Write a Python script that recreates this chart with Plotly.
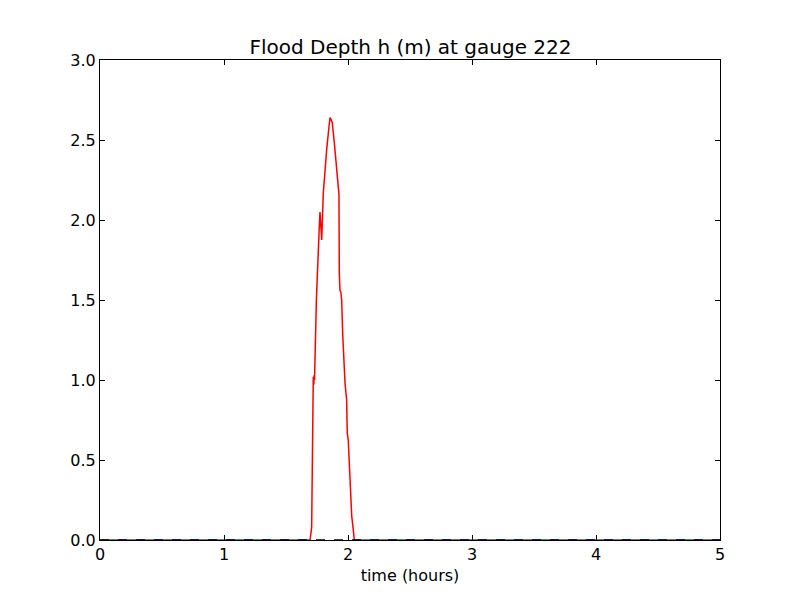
import plotly.graph_objects as go

# time (hours) and flood depth h (m) at gauge 222
time_hours = [0.0, 1.0, 1.694, 1.707, 1.716, 1.720, 1.724, 1.727, 1.730, 1.745, 1.760, 1.768, 1.774,
              1.781, 1.788, 1.801, 1.815, 1.828, 1.841, 1.855, 1.862, 1.873, 1.890, 1.909,
              1.922, 1.927, 1.930, 1.935, 1.942, 1.949, 1.957, 1.968, 1.976, 1.989,
              1.994, 2.002, 2.016, 2.030, 2.043, 2.051, 3.0, 5.0]
depth_m = [0.0, 0.0, 0.0, 0.08, 0.60, 1.02, 0.97, 1.03, 1.00, 1.50, 1.86, 1.95, 2.05,
           1.95, 1.875, 2.17, 2.33, 2.44, 2.54, 2.64, 2.63, 2.61, 2.48, 2.33,
           2.19, 2.16, 1.67, 1.56, 1.55, 1.50, 1.29, 1.08, 0.98, 0.875,
           0.67, 0.625, 0.35, 0.15, 0.06, 0.0, 0.0, 0.0]
zero_t = [0.0, 5.0]
zero_h = [0.0, 0.0]

x_ticks = [0, 1, 2, 3, 4, 5]
y_ticks = [0.0, 0.5, 1.0, 1.5, 2.0, 2.5, 3.0]
y_tick_labels = ["0.0", "0.5", "1.0", "1.5", "2.0", "2.5", "3.0"]

fig = go.Figure()
fig.add_trace(go.Scatter(x=time_hours, y=depth_m, mode="lines",
                         line=dict(color="red", width=1.5), showlegend=False))
fig.add_trace(go.Scatter(x=zero_t, y=zero_h, mode="lines",
                         line=dict(color="black", width=1.3, dash="dash"), showlegend=False))

font = dict(family="DejaVu Sans", size=16, color="black")
fig.update_layout(
    width=800, height=600,
    paper_bgcolor="white", plot_bgcolor="white",
    margin=dict(l=92, r=88, t=52, b=68),
    font=font,
    title=dict(text="Flood Depth h (m) at gauge 222", x=(410.5 - 8) / 800, xanchor="center",
               y=1 - 39 / 600, yanchor="middle", font=dict(family="DejaVu Sans", size=20)),
    xaxis=dict(range=[0, 5], tickvals=x_ticks, ticks="inside", ticklen=5, tickcolor="black",
               showline=True, linecolor="black", linewidth=1, mirror="ticks",
               showgrid=False, zeroline=False,
               title=dict(text="time (hours)", standoff=6, font=dict(family="DejaVu Sans", size=16)),
               tickfont=font),
    yaxis=dict(range=[0, 3.0], tickvals=y_ticks, ticktext=y_tick_labels, ticks="inside",
               ticklen=5, tickcolor="black", showline=True, linecolor="black", linewidth=1,
               mirror="ticks", showgrid=False, zeroline=False, tickfont=font),
)
fig.write_html("out.html")
